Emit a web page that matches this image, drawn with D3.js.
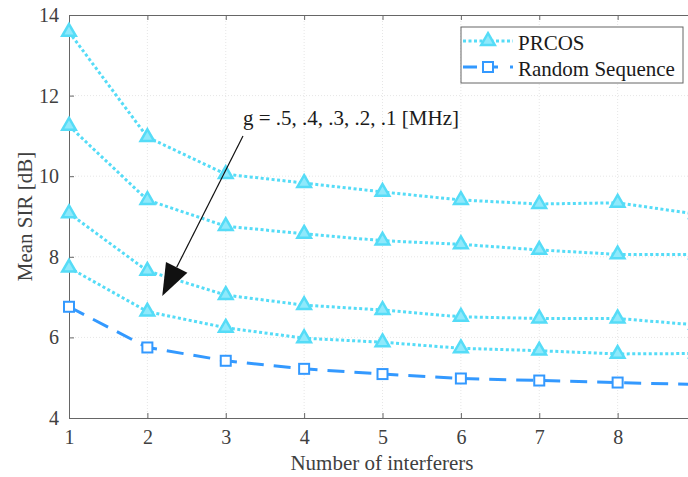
<!DOCTYPE html>
<html>
<head>
<meta charset="utf-8">
<script src="https://cdn.jsdelivr.net/npm/d3@7"></script>
<style>
  body { margin: 0; background: #fff; }
  svg { display: block; font-family: "Liberation Serif", "Times New Roman", serif; }
</style>
</head>
<body>
<svg id="chart" width="688" height="477"></svg>
<script>
// number of interferers
var interferers = [1, 2, 3, 4, 5, 6, 7, 8, 9];
// PRCOS, one curve per g (top to bottom)
var prcosG05 = [13.58, 10.97, 10.05, 9.83, 9.61, 9.41, 9.31, 9.34, 9.06];
var prcosG04 = [11.25, 9.41, 8.76, 8.57, 8.40, 8.31, 8.17, 8.06, 8.06];
var prcosG03 = [9.08, 7.65, 7.05, 6.80, 6.68, 6.51, 6.47, 6.47, 6.31];
var prcosG02 = [7.73, 6.64, 6.24, 5.98, 5.88, 5.73, 5.67, 5.59, 5.60];
var randomSeq = [6.76, 5.75, 5.42, 5.22, 5.09, 4.98, 4.93, 4.88, 4.83];
var xTicks = [1, 2, 3, 4, 5, 6, 7, 8];
var yTicks = [4, 6, 8, 10, 12, 14];
var legendLabels = ["PRCOS", "Random Sequence"];
var annotation = "g = .5, .4, .3, .2, .1 [MHz]";

var cyan = "#55dcf7", blue = "#3399ff";
var svg = d3.select("#chart");
var plotLeft = 69, plotTop = 15, plotBottom = 418;

var x = d3.scaleLinear().domain([1, 9]).range([plotLeft, 696]);
var y = d3.scaleLinear().domain([4, 14]).range([plotBottom, plotTop]);

// faint grid
svg.append("g").selectAll("line").data(xTicks.slice(1)).enter().append("line")
  .attr("x1", d => x(d)).attr("x2", d => x(d)).attr("y1", plotTop).attr("y2", plotBottom)
  .attr("stroke", "#e6e6e6").attr("stroke-dasharray", "1,2");
svg.append("g").selectAll("line").data(yTicks.slice(1, -1)).enter().append("line")
  .attr("x1", plotLeft).attr("x2", 688).attr("y1", d => y(d)).attr("y2", d => y(d))
  .attr("stroke", "#e6e6e6").attr("stroke-dasharray", "1,2");

// axes
var xAxis = svg.append("g").attr("transform", "translate(0," + plotBottom + ")")
  .call(d3.axisBottom(x).tickValues(xTicks).tickSizeInner(-5).tickSizeOuter(0).tickPadding(12));
var xTop = svg.append("g").attr("transform", "translate(0," + plotTop + ")")
  .call(d3.axisTop(x).tickValues(xTicks).tickSizeInner(-5).tickSizeOuter(0).tickFormat(""));
var yAxis = svg.append("g").attr("transform", "translate(" + plotLeft + ",0)")
  .call(d3.axisLeft(y).tickValues(yTicks).tickSizeInner(-5).tickSizeOuter(0).tickPadding(10));
[xAxis, xTop, yAxis].forEach(function(a) {
  a.select(".domain").attr("stroke", "#666");
  a.selectAll(".tick line").attr("stroke", "#666");
  a.selectAll("text").attr("fill", "#404040").style("font-size", "20px")
    .style("font-family", "Liberation Serif");
});

svg.append("text").attr("x", 382).attr("y", 470).attr("text-anchor", "middle")
  .attr("fill", "#404040").style("font-size", "21px").text("Number of interferers");
svg.append("text").attr("transform", "translate(32," + ((plotTop + plotBottom) / 2) + ") rotate(-90)")
  .attr("text-anchor", "middle").attr("fill", "#404040").style("font-size", "21px")
  .text("Mean SIR [dB]");

var line = d3.line().x((d, i) => x(interferers[i])).y(d => y(d));
var tri = d3.symbol().type(d3.symbolTriangle).size(80);

[prcosG05, prcosG04, prcosG03, prcosG02].forEach(function(s) {
  svg.append("path").datum(s).attr("d", line).attr("fill", "none")
    .attr("stroke", cyan).attr("stroke-width", 3).attr("stroke-dasharray", "3,2.5");
  svg.append("g").selectAll("path").data(s).enter().append("path")
    .attr("d", tri)
    .attr("transform", (d, i) => "translate(" + x(interferers[i]) + "," + y(d) + ")")
    .attr("fill", "#8fe9fb").attr("stroke", cyan).attr("stroke-width", 2.5);
});

svg.append("path").datum(randomSeq).attr("d", line).attr("fill", "none")
  .attr("stroke", blue).attr("stroke-width", 3).attr("stroke-dasharray", "17,10");
svg.append("g").selectAll("rect").data(randomSeq).enter().append("rect")
  .attr("x", (d, i) => x(interferers[i]) - 5).attr("y", d => y(d) - 5)
  .attr("width", 10).attr("height", 10)
  .attr("fill", "#fff").attr("stroke", blue).attr("stroke-width", 2);

// annotation arrow
var ax0 = 3.22, ay0 = 11.0, ax1 = 2.19, ay1 = 7.03;
var sx = x(ax0), sy = y(ay0), tx = x(ax1), ty = y(ay1);
var len = Math.hypot(sx - tx, sy - ty), ux = (sx - tx) / len, uy = (sy - ty) / len;
var bx = tx + ux * 32, by = ty + uy * 32;
svg.append("line").attr("x1", sx).attr("y1", sy).attr("x2", bx).attr("y2", by)
  .attr("stroke", "#111").attr("stroke-width", 1.2);
svg.append("path")
  .attr("d", "M" + tx + "," + ty + "L" + (bx - uy * 12) + "," + (by + ux * 12) +
    "L" + (bx + uy * 12) + "," + (by - ux * 12) + "Z")
  .attr("fill", "#111");
svg.append("text").attr("x", 243).attr("y", 125).attr("fill", "#1a1a1a")
  .style("font-size", "21px").text(annotation);

// legend
var lg = svg.append("g");
lg.append("rect").attr("x", 461).attr("y", 27).attr("width", 222).attr("height", 56)
  .attr("fill", "#fff").attr("stroke", "#666").attr("stroke-width", 1);
lg.append("line").attr("x1", 463).attr("x2", 513).attr("y1", 41).attr("y2", 41)
  .attr("stroke", cyan).attr("stroke-width", 3).attr("stroke-dasharray", "3,2.5");
lg.append("path").attr("d", tri).attr("transform", "translate(488,41)")
  .attr("fill", "#8fe9fb").attr("stroke", cyan).attr("stroke-width", 2.5);
lg.append("line").attr("x1", 463).attr("x2", 513).attr("y1", 67).attr("y2", 67)
  .attr("stroke", blue).attr("stroke-width", 3).attr("stroke-dasharray", "14,6,15,12,3,100");
lg.append("rect").attr("x", 483).attr("y", 62).attr("width", 10).attr("height", 10)
  .attr("fill", "#fff").attr("stroke", blue).attr("stroke-width", 2);
lg.selectAll("text").data(legendLabels).enter().append("text")
  .attr("x", 518).attr("y", (d, i) => 50 + i * 26).attr("fill", "#1a1a1a")
  .style("font-size", "21px").text(d => d);
</script>
</body>
</html>
